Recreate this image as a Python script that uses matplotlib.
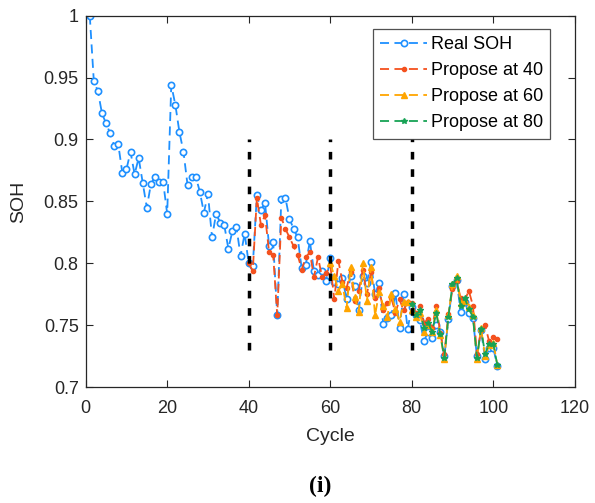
import numpy as np
import matplotlib
matplotlib.use('Agg')
import matplotlib.pyplot as plt

plt.rcParams['font.family'] = ['Liberation Sans', 'DejaVu Sans']

# SOH values
cycles_real = list(range(1, 102))
soh_real = [
    1.000, 0.947, 0.939, 0.921, 0.913, 0.905, 0.895, 0.896, 0.873, 0.876,
    0.890, 0.872, 0.885, 0.865, 0.845, 0.864, 0.870, 0.866, 0.866, 0.840,
    0.944, 0.928, 0.906, 0.890, 0.863, 0.870, 0.870, 0.858, 0.841, 0.856,
    0.821, 0.840, 0.833, 0.831, 0.812, 0.826, 0.829, 0.806, 0.824, 0.800,
    0.798, 0.855, 0.843, 0.849, 0.814, 0.817, 0.758, 0.852, 0.853, 0.836,
    0.828, 0.821, 0.796, 0.799, 0.818, 0.794, 0.791, 0.794, 0.786, 0.804,
    0.785, 0.783, 0.788, 0.771, 0.790, 0.782, 0.762, 0.790, 0.784, 0.801,
    0.775, 0.784, 0.751, 0.756, 0.758, 0.776, 0.748, 0.775, 0.747, 0.765,
    0.758, 0.754, 0.737, 0.745, 0.740, 0.750, 0.745, 0.725, 0.755, 0.782,
    0.787, 0.761, 0.769, 0.760, 0.756, 0.725, 0.746, 0.723, 0.732, 0.732,
    0.717,
]

cycles_40 = list(range(40, 102))
soh_40 = [
    0.800, 0.794, 0.853, 0.831, 0.839, 0.809, 0.807, 0.758, 0.837, 0.828,
    0.821, 0.814, 0.807, 0.795, 0.805, 0.809, 0.789, 0.805, 0.789, 0.792,
    0.799, 0.771, 0.802, 0.785, 0.780, 0.793, 0.770, 0.778, 0.795, 0.775,
    0.793, 0.772, 0.780, 0.762, 0.768, 0.772, 0.760, 0.771, 0.762, 0.769,
    0.768, 0.760, 0.766, 0.752, 0.755, 0.748, 0.766, 0.744, 0.727, 0.759,
    0.779, 0.786, 0.772, 0.770, 0.778, 0.766, 0.727, 0.746, 0.750, 0.737,
    0.741, 0.739,
]

cycles_60 = list(range(60, 102))
soh_60 = [
    0.800, 0.790, 0.778, 0.783, 0.764, 0.797, 0.773, 0.761, 0.800, 0.770,
    0.797, 0.758, 0.777, 0.766, 0.757, 0.775, 0.763, 0.753, 0.769, 0.769,
    0.762, 0.757, 0.760, 0.745, 0.750, 0.745, 0.762, 0.742, 0.723, 0.758,
    0.783, 0.790, 0.768, 0.770, 0.765, 0.758, 0.723, 0.748, 0.725, 0.734,
    0.736, 0.718,
]

cycles_80 = list(range(80, 102))
soh_80 = [
    0.767, 0.758, 0.762, 0.748, 0.752, 0.745, 0.760, 0.743, 0.724, 0.757,
    0.783, 0.788, 0.766, 0.772, 0.763, 0.757, 0.724, 0.747, 0.727, 0.735,
    0.735, 0.718,
]

start_points = [40, 60, 80]

fig = plt.figure(figsize=(5.95, 5.03), dpi=100)
ax = fig.add_axes([0.144, 0.230, 0.822, 0.739])

dash = (0, (5, 3))
ax.plot(cycles_real, soh_real, linestyle=dash, color='#1E90FF', lw=1.3,
        marker='o', ms=4.5, mfc='white', mew=1.2, label='Real SOH')
ax.plot(cycles_40, soh_40, linestyle=dash, color='#F4511E', lw=1.3,
        marker='o', ms=3, label='Propose at 40')
ax.plot(cycles_60, soh_60, linestyle=dash, color='#FFA500', lw=1.3,
        marker='^', ms=4.5, label='Propose at 60')
ax.plot(cycles_80, soh_80, linestyle=dash, color='#17A255', lw=1.3,
        marker='*', ms=4, label='Propose at 80')

for s in start_points:
    ax.plot([s, s], [0.73, 0.90], color='black', lw=2.5,
            linestyle=(0, (2.2, 2.8)), zorder=5)

ax.set_xlim(0, 120)
ax.set_ylim(0.7, 1.0)
ax.set_xticks(np.arange(0, 121, 20))
ax.set_yticks([0.7, 0.75, 0.8, 0.85, 0.9, 0.95, 1.0])
ax.set_yticklabels(['0.7', '0.75', '0.8', '0.85', '0.9', '0.95', '1'])
ax.tick_params(direction='in', top=True, right=True, labelsize=13,
               length=5, width=0.8, colors='#262626')
ax.tick_params(axis='x', pad=9)
ax.tick_params(axis='y', pad=5)
for sp in ax.spines.values():
    sp.set_linewidth(0.9)
    sp.set_color('#262626')

ax.set_xlabel('Cycle', fontsize=14, color='#262626', labelpad=8)
ax.set_ylabel('SOH', fontsize=14, color='#262626', labelpad=12)

leg = ax.legend(loc='upper left', bbox_to_anchor=(373 / 595, 1 - 29 / 503),
                bbox_transform=fig.transFigure, fontsize=13, frameon=True,
                fancybox=False, handlelength=2.6, handletextpad=0.2,
                borderpad=0.4, labelspacing=0.5, borderaxespad=0)
leg.get_frame().set_edgecolor('#262626')
leg.get_frame().set_linewidth(0.9)

fig.text(0.538, 0.022, '(i)', fontsize=17, fontweight='bold',
         family=['Liberation Serif', 'DejaVu Serif'], ha='center')

fig.savefig('out.png', dpi=100)
